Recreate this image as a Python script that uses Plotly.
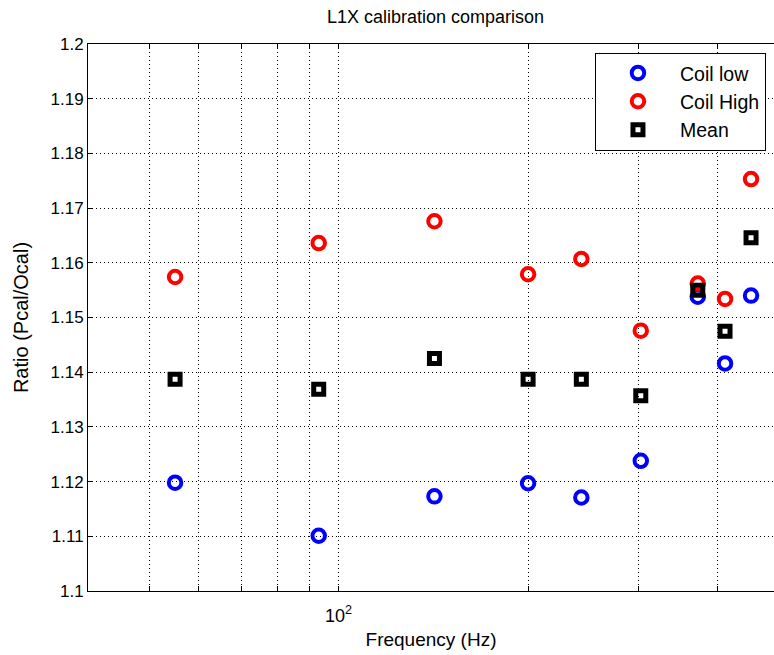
import math
import plotly.graph_objects as go

# Calibration ratio measurements (Pcal / Ocal) at each test frequency
freq_hz = [55, 93, 142, 200, 243, 302, 372, 411, 452]
coil_low = [1.1198, 1.1101, 1.1173, 1.1197, 1.1171, 1.1238, 1.1538, 1.1416, 1.1540]
coil_high = [1.1574, 1.1636, 1.1676, 1.1579, 1.1607, 1.1476, 1.1562, 1.1534, 1.1753]
mean_ratio = [1.1387, 1.1369, 1.1425, 1.1387, 1.1387, 1.1357, 1.1550, 1.1475, 1.1646]

# Axis ticks
x_tick_vals = [50, 60, 70, 80, 90, 100, 200, 300, 400]
x_tick_text = ["", "", "", "", "", "10<sup>2</sup>", "", "", ""]
y_tick_vals = [1.10, 1.11, 1.12, 1.13, 1.14, 1.15, 1.16, 1.17, 1.18, 1.19, 1.20]
y_tick_text = ["1.1", "1.11", "1.12", "1.13", "1.14", "1.15", "1.16", "1.17", "1.18", "1.19", "1.2"]

FONT = "Liberation Sans, Arial, Helvetica, sans-serif"
GRID_DASH = "1px,3px"

fig = go.Figure()

fig.add_trace(go.Scatter(
    x=freq_hz, y=coil_low, mode="markers", name="Coil low",
    marker=dict(symbol="circle-open", size=12.5, color="#0000ff",
                line=dict(width=4, color="#0000ff")),
))
fig.add_trace(go.Scatter(
    x=freq_hz, y=coil_high, mode="markers", name="Coil High",
    marker=dict(symbol="circle-open", size=12.5, color="#ff0000",
                line=dict(width=4, color="#ff0000")),
))
fig.add_trace(go.Scatter(
    x=freq_hz, y=mean_ratio, mode="markers", name="Mean",
    marker=dict(symbol="square-open", size=10, color="#000000",
                line=dict(width=5, color="#000000")),
))

fig.update_layout(
    width=774, height=655,
    margin=dict(l=88, r=0, t=44, b=64),
    paper_bgcolor="white", plot_bgcolor="white",
    font=dict(family=FONT, size=17, color="black"),
    title=dict(text="L1X calibration comparison", x=0.5066, xref="paper",
               xanchor="center", y=0.974, yanchor="middle",
               font=dict(family=FONT, size=18, color="black")),
    showlegend=True,
    legend=dict(x=0.9883, y=0.984, xanchor="right", yanchor="top",
                bgcolor="white", bordercolor="black", borderwidth=1,
                font=dict(family=FONT, size=19.5, color="black"),
                itemwidth=74, tracegroupgap=0),
    xaxis=dict(
        type="log", range=[math.log10(40), 2.6916],
        tickvals=x_tick_vals, ticktext=x_tick_text,
        ticks="inside", ticklen=5, tickcolor="black", tickwidth=1,
        showline=True, linecolor="black", linewidth=1, mirror="ticks",
        showgrid=True, gridcolor="black", gridwidth=1, griddash=GRID_DASH,
        zeroline=False, ticklabelstandoff=8,
        title=dict(text="Frequency (Hz)", standoff=8,
                   font=dict(family=FONT, size=19)),
        tickfont=dict(family=FONT, size=18),
    ),
    yaxis=dict(
        range=[1.1, 1.2],
        tickvals=y_tick_vals, ticktext=y_tick_text,
        ticks="inside", ticklen=5, tickcolor="black", tickwidth=1,
        showline=True, linecolor="black", linewidth=1, mirror=False,
        showgrid=True, gridcolor="black", gridwidth=1, griddash=GRID_DASH,
        zeroline=False,
        title=dict(text="Ratio (Pcal/Ocal)", standoff=16,
                   font=dict(family=FONT, size=20)),
        tickfont=dict(family=FONT, size=17),
    ),
)

fig.write_html("out.html")
